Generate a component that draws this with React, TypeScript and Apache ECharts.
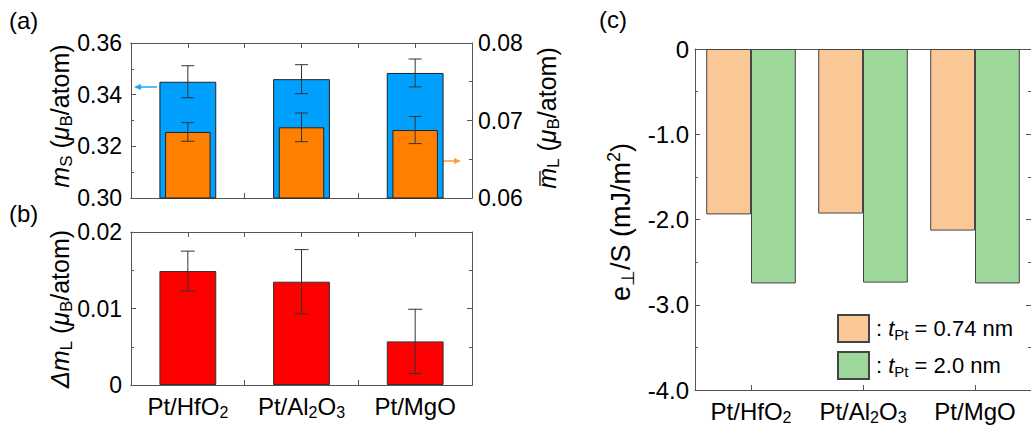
import React, { useEffect, useRef } from "react";
import * as echarts from "echarts";

// ---------- data ----------
const categories = ["Pt/HfO2", "Pt/Al2O3", "Pt/MgO"];
const msValues = [0.345, 0.346, 0.3484];
const msErrors = [0.0062, 0.0056, 0.0054];
const mlValues = [0.06852, 0.06912, 0.06877];
const mlErrors = [0.0012, 0.00185, 0.00175];
const dmlValues = [0.0149, 0.0135, 0.0057];
const dmlErrors = [0.0026, 0.0042, 0.0042];
const eThin = [-1.94, -1.93, -2.13];
const eThick = [-2.75, -2.74, -2.75];
const legendThin = "tPt = 0.74 nm";
const legendThick = "tPt = 2.0 nm";

const FONT = "'Liberation Sans', Arial, sans-serif";
const AXIS = "#555";

const subRich = (label: string) =>
  label
    .split(/(\d)/)
    .filter(Boolean)
    .map((p) => (/\d/.test(p) ? `{s|${p}}` : `{n|${p}}`))
    .join("");

const xRich = {
  n: { fontSize: 24, fontFamily: FONT, color: "#000", lineHeight: 28 },
  s: { fontSize: 16, fontFamily: FONT, color: "#000", lineHeight: 16, padding: [12, 0, 0, 0] },
};

const makeTitleRich = (fs: number) => {
  const ss = Math.round(fs * 0.67);
  const lh = fs + 4;
  const off = Math.round(fs * 0.5);
  return {
    n: { fontSize: fs, fontFamily: FONT, fill: "#000", lineHeight: lh },
    i: { fontSize: fs, fontFamily: FONT, fontStyle: "italic", fill: "#000", lineHeight: lh },
    s: { fontSize: ss, fontFamily: FONT, fill: "#000", lineHeight: lh - off, padding: [off, 0, 0, 0] },
    sup: { fontSize: ss, fontFamily: FONT, fill: "#000", lineHeight: lh - off, padding: [0, 0, off, 0] },
  };
};
const titleRich = makeTitleRich(25);
const titleRichC = makeTitleRich(27);

const legendRich = {
  n: { fontSize: 22, fontFamily: FONT, color: "#000", lineHeight: 26 },
  i: { fontSize: 22, fontFamily: FONT, fontStyle: "italic", color: "#000", lineHeight: 26 },
  s: { fontSize: 15, fontFamily: FONT, color: "#000", lineHeight: 15, padding: [11, 0, 0, 0] },
};

const lineStyle = { color: AXIS, width: 1 };

function xAx(gridIndex: number, position: string, alignWithLabel: boolean, showLabels: boolean, showTicks = true) {
  return {
    type: "category",
    gridIndex,
    position,
    data: categories,
    boundaryGap: true,
    axisLine: { show: true, onZero: false, lineStyle },
    axisTick: { show: showTicks, inside: true, length: 5, alignWithLabel, lineStyle },
    axisLabel: { show: showLabels, margin: 7, interval: 0, formatter: subRich, rich: xRich },
    splitLine: { show: false },
  };
}

function yAx(
  gridIndex: number,
  position: string,
  min: number,
  max: number,
  interval: number,
  showLabels: boolean,
  fmt: (v: number) => string,
  margin: number,
  fontSize = 23
) {
  return {
    type: "value",
    gridIndex,
    position,
    min,
    max,
    interval,
    axisLine: { show: true, onZero: false, lineStyle },
    axisTick: { show: true, inside: true, length: 5, lineStyle },
    minorTick: { show: true, splitNumber: 2, length: 3, lineStyle },
    splitLine: { show: false },
    minorSplitLine: { show: false },
    axisLabel: { show: showLabels, margin, formatter: fmt, fontSize, fontFamily: FONT, color: "#000" },
  };
}

function errSeries(xi: number, yi: number, values: number[], errors: number[], z: number, half = 7) {
  return {
    type: "custom",
    xAxisIndex: xi,
    yAxisIndex: yi,
    z,
    silent: true,
    encode: { x: 0, y: 1 },
    data: values.map((v, i) => [i, v, errors[i]]),
    renderItem: (params: any, api: any) => {
      const x = api.value(0);
      const y = api.value(1);
      const e = api.value(2);
      const top = api.coord([x, y + e]);
      const bot = api.coord([x, y - e]);
      const st = { stroke: "#333", lineWidth: 1 };
      return {
        type: "group",
        children: [
          { type: "line", shape: { x1: top[0], y1: top[1], x2: bot[0], y2: bot[1] }, style: st },
          { type: "line", shape: { x1: top[0] - half, y1: top[1], x2: top[0] + half, y2: top[1] }, style: st },
          { type: "line", shape: { x1: bot[0] - half, y1: bot[1], x2: bot[0] + half, y2: bot[1] }, style: st },
        ],
      };
    },
  };
}

const f2 = (v: number) => v.toFixed(2);
const fB = (v: number) => (Math.abs(v) < 1e-9 ? "0" : v.toFixed(2));
const fC = (v: number) => (Math.abs(v) < 1e-9 ? "0" : v.toFixed(1));

const option: any = {
  animation: false,
  backgroundColor: "#fff",
  textStyle: { fontFamily: FONT },
  grid: [
    { left: 131, top: 43, width: 341, height: 155 },
    { left: 131, top: 232, width: 341, height: 153 },
    { left: 695, top: 49, width: 340, height: 341 },
  ],
  xAxis: [
    xAx(0, "bottom", true, false),
    xAx(0, "bottom", false, false),
    xAx(0, "top", true, false),
    xAx(0, "top", false, false),
    xAx(1, "bottom", true, true),
    xAx(1, "bottom", false, false),
    xAx(1, "top", true, false),
    xAx(1, "top", false, false),
    xAx(2, "bottom", true, true),
    xAx(2, "top", true, false, false),
  ],
  yAxis: [
    yAx(0, "left", 0.3, 0.36, 0.02, true, f2, 9),
    yAx(0, "right", 0.06, 0.08, 0.01, true, f2, 6),
    yAx(1, "left", 0, 0.02, 0.01, true, fB, 9),
    yAx(1, "right", 0, 0.02, 0.01, false, fB, 6),
    yAx(2, "left", -4, 0, 1, true, fC, 6, 24),
    yAx(2, "right", -4, 0, 1, false, fC, 6),
  ],
  legend: {
    data: [legendThin, legendThick],
    left: 832,
    top: 309,
    orient: "vertical",
    icon: "rect",
    itemWidth: 31,
    itemHeight: 27,
    itemGap: 8,
    selectedMode: false,
    formatter: (name: string) =>
      name === legendThin ? "{n|: }{i|t}{s|Pt}{n| = 0.74 nm}" : "{n|: }{i|t}{s|Pt}{n| = 2.0 nm}",
    textStyle: { rich: legendRich, padding: [0, 0, 0, 2] },
  },
  series: [
    {
      type: "bar",
      name: "ms",
      xAxisIndex: 0,
      yAxisIndex: 0,
      data: msValues,
      barWidth: "50%",
      z: 2,
      itemStyle: { color: "#00A0FF", borderColor: "#222", borderWidth: 1 },
    },
    errSeries(0, 0, msValues, msErrors, 3, 6.5),
    {
      type: "bar",
      name: "ml",
      xAxisIndex: 1,
      yAxisIndex: 1,
      data: mlValues,
      barWidth: "40%",
      z: 4,
      itemStyle: { color: "#FF8000", borderColor: "#222", borderWidth: 1 },
    },
    errSeries(1, 1, mlValues, mlErrors, 5, 6.5),
    {
      type: "bar",
      name: "dml",
      xAxisIndex: 4,
      yAxisIndex: 2,
      data: dmlValues,
      barWidth: "50%",
      z: 2,
      itemStyle: { color: "#FF0000", borderColor: "#333", borderWidth: 1 },
    },
    errSeries(4, 2, dmlValues, dmlErrors, 3, 7),
    {
      type: "bar",
      name: legendThin,
      xAxisIndex: 8,
      yAxisIndex: 4,
      data: eThin,
      barWidth: "40%",
      barGap: "0%",
      itemStyle: { color: "#FAC896", borderColor: "#444", borderWidth: 1 },
    },
    {
      type: "bar",
      name: legendThick,
      xAxisIndex: 8,
      yAxisIndex: 4,
      data: eThick,
      barWidth: "40%",
      barGap: "0%",
      itemStyle: { color: "#9ED89B", borderColor: "#444", borderWidth: 1 },
    },
  ],
  graphic: [
    // panel labels
    { type: "text", left: 9, top: 8, style: { text: "(a)", fontSize: 24, fontFamily: FONT, fill: "#000" } },
    { type: "text", left: 9, top: 201, style: { text: "(b)", fontSize: 24, fontFamily: FONT, fill: "#000" } },
    { type: "text", left: 599, top: 7, style: { text: "(c)", fontSize: 24, fontFamily: FONT, fill: "#000" } },
    // axis titles
    {
      type: "text",
      x: 60,
      y: 116,
      rotation: Math.PI / 2,
      style: {
        text: "{i|m}{s|S}{n| (}{i|μ}{s|B}{n|/atom)}",
        rich: titleRich,
        align: "center",
        verticalAlign: "middle",
      },
    },
    {
      type: "text",
      x: 60,
      y: 309,
      rotation: Math.PI / 2,
      style: {
        text: "{i|Δm}{s|L}{n| (}{i|μ}{s|B}{n|/atom)}",
        rich: titleRich,
        align: "center",
        verticalAlign: "middle",
      },
    },
    {
      type: "text",
      x: 547,
      y: 118,
      rotation: Math.PI / 2,
      style: {
        text: "{i|m}{s|L}{n| (}{i|μ}{s|B}{n|/atom)}",
        rich: titleRich,
        align: "center",
        verticalAlign: "middle",
      },
    },
    { type: "line", shape: { x1: 540, y1: 171, x2: 540, y2: 186 }, style: { stroke: "#000", lineWidth: 1.2 } },
    {
      type: "text",
      x: 621,
      y: 222,
      rotation: Math.PI / 2,
      style: {
        text: "{n|e}{s|⊥}{n|/S (mJ/m}{sup|2}{n|)}",
        rich: titleRichC,
        align: "center",
        verticalAlign: "middle",
      },
    },
    // arrows
    { type: "line", shape: { x1: 157, y1: 87, x2: 140, y2: 87 }, style: { stroke: "#22A4F5", lineWidth: 1.5 } },
    {
      type: "polygon",
      shape: { points: [[134, 87], [141, 84], [141, 90]] },
      style: { fill: "#22A4F5" },
    },
    { type: "line", shape: { x1: 440, y1: 161, x2: 455, y2: 161 }, style: { stroke: "#FF9A3C", lineWidth: 1.5 } },
    {
      type: "polygon",
      shape: { points: [[461, 161], [454, 158], [454, 164]] },
      style: { fill: "#FF9A3C" },
    },
  ],
};

export default function App() {
  const ref = useRef<HTMLDivElement>(null);
  useEffect(() => {
    const chart = echarts.init(ref.current!, null, { renderer: "svg" });
    chart.setOption(option);
    return () => chart.dispose();
  }, []);
  return (
    <div
      ref={ref}
      style={{ position: "fixed", left: 0, top: 0, width: 1031, height: 432, background: "#fff" }}
    />
  );
}
